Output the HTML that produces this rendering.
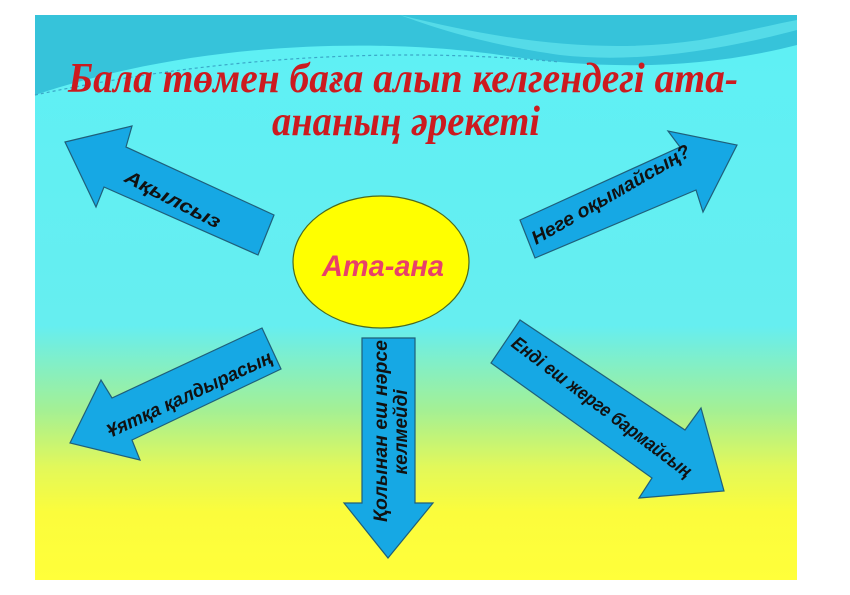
<!DOCTYPE html>
<html><head><meta charset="utf-8"><style>
html,body{margin:0;padding:0;background:#fff;width:850px;height:595px;overflow:hidden}
svg{display:block}
</style></head><body>
<svg width="850" height="595" viewBox="0 0 850 595" xmlns="http://www.w3.org/2000/svg">
<defs>
<linearGradient id="bg" x1="0" y1="0" x2="0" y2="1">
<stop offset="0" stop-color="#5ef0f5"/>
<stop offset="0.55" stop-color="#66eef0"/>
<stop offset="0.7" stop-color="#a4f094"/>
<stop offset="0.8" stop-color="#e2f85a"/>
<stop offset="0.88" stop-color="#fbfc3c"/>
<stop offset="1" stop-color="#ffff3a"/>
</linearGradient>
</defs>
<rect x="35" y="15" width="762" height="565" fill="url(#bg)"/>
<path d="M35 15 H797 V45 C700 70 600 70 500 55 C380 38 200 40 35 95 Z" fill="#36c3da"/>
<path d="M400 15 C500 40 600 55 700 40 C740 33 770 25 797 20 V30 C740 45 650 65 560 55 C490 45 440 30 400 15Z" fill="#55dbe8"/>
<path d="M35 95 C200 60 380 45 560 62" fill="none" stroke="#3aa8c8" stroke-width="1.2" stroke-dasharray="3 3"/>
<g font-family="Liberation Serif, serif" font-weight="bold" font-style="italic" fill="#cc1a1f">
<text x="68" y="92" font-size="42" textLength="670" lengthAdjust="spacingAndGlyphs">Бала төмен баға алып келгендегі ата-</text>
<text x="272" y="135" font-size="42" textLength="268" lengthAdjust="spacingAndGlyphs">ананың әрекеті</text>
</g>
<g fill="#16a8e4" stroke="#1f5f7a" stroke-width="1.2" stroke-linejoin="miter">
<polygon points="65,142 132,126 126,147 274,215 258,255 104,187 96,207"/>
<polygon points="520,220 680,147 668,131 737,145 703,212 696,190 535,258"/>
<polygon points="262,328 281,369 132,440 140,460 70,443 101,380 112,398"/>
<polygon points="362,338 415,338 415,503 433,503 388,558 344,503 362,503"/>
<polygon points="520,320 491,363 652,478 639,498 724,491 701,408 685,430"/>
</g>
<ellipse cx="381" cy="262" rx="88" ry="66" fill="#ffff00" stroke="#4a6a20" stroke-width="1.2"/>
<text x="383" y="276" text-anchor="middle" font-family="Liberation Sans, sans-serif" font-weight="bold" font-style="italic" font-size="30" textLength="122" lengthAdjust="spacingAndGlyphs" fill="#e8406a">Ата-ана</text>
<g font-family="Liberation Sans, sans-serif" font-weight="bold" font-style="italic" fill="#111" font-size="19" text-anchor="middle">
<text transform="translate(170,205) rotate(27)" textLength="105" lengthAdjust="spacingAndGlyphs">Ақылсыз</text>
<text transform="translate(614,200) rotate(-30)" textLength="180" lengthAdjust="spacingAndGlyphs">Неге оқымайсың?</text>
<text transform="translate(192,400) rotate(-25)" textLength="180" lengthAdjust="spacingAndGlyphs">Ұятқа қалдырасың</text>
<text transform="translate(387,431) rotate(-90)" textLength="182" lengthAdjust="spacingAndGlyphs">Қолынан еш нәрсе</text>
<text transform="translate(407,432) rotate(-90)" textLength="85" lengthAdjust="spacingAndGlyphs">келмейді</text>
<text transform="translate(598,412) rotate(37)" textLength="220" lengthAdjust="spacingAndGlyphs">Ендi еш жерге бармайсың</text>
</g>
</svg>
</body></html>
